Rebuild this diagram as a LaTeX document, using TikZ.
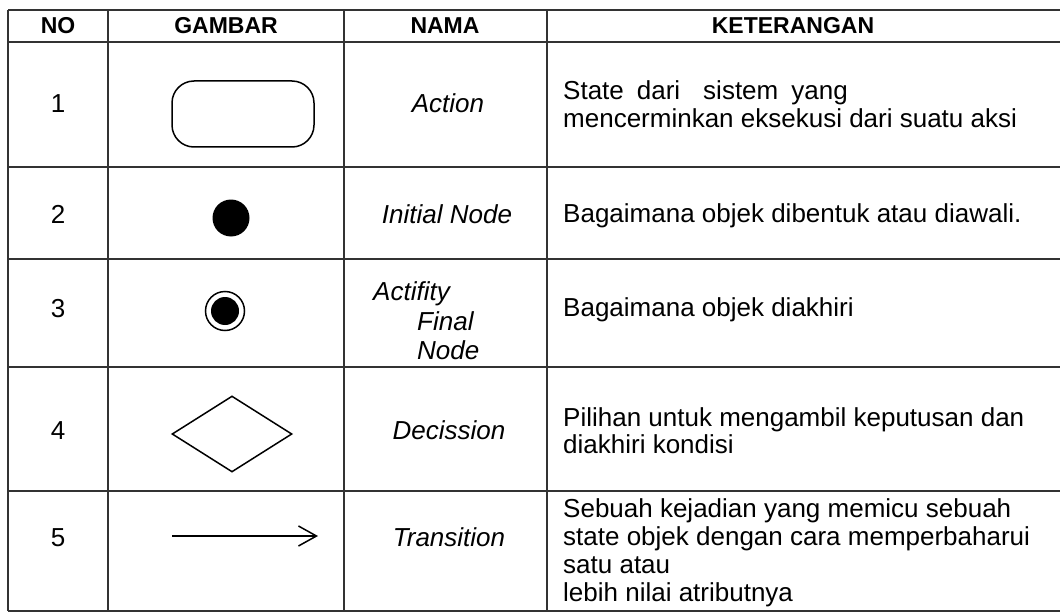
\documentclass[tikz,border=0pt]{standalone}
\usepackage{fontspec}
\setmainfont{Liberation Sans}
\usetikzlibrary{arrows.meta,shapes.geometric}
\begin{document}
\begin{tikzpicture}[x=1pt,y=-1pt,
  gridline/.style={draw=black!80,line width=1.5pt},
  shp/.style={draw=black,line width=1.5pt},
  hdr/.style={font=\fontsize{23}{26}\selectfont\bfseries,inner sep=0pt,anchor=base},
  txt/.style={font=\fontsize{26}{29}\selectfont,inner sep=0pt,anchor=base west},
  num/.style={font=\fontsize{26}{29}\selectfont,inner sep=0pt,anchor=base},
  nm/.style={font=\fontsize{26}{29}\selectfont\itshape,inner sep=0pt,anchor=base},
  nmw/.style={font=\fontsize{26}{29}\selectfont\itshape,inner sep=0pt,anchor=base west}]
\useasboundingbox (0,0) rectangle (1060,615);
\fill[white] (0,0) rectangle (1060,615);
% table rules
\foreach \yy in {10,42,167,259,367,491,611}{\draw[gridline] (8,\yy) -- (1060,\yy);}
\foreach \xx in {8,108,344,547}{\draw[gridline] (\xx,10) -- (\xx,611);}
% header
\node[hdr] (hno) at (58,34) {NO};
\node[hdr] (hgb) at (226,34) {GAMBAR};
\node[hdr] (hnm) at (445,34) {NAMA};
\node[hdr] (hkt) at (793,34) {KETERANGAN};
% numbers
\node[num] (n1) at (58,113) {1};
\node[num] (n2) at (58,223) {2};
\node[num] (n3) at (58,317) {3};
\node[num] (n4) at (58,439) {4};
\node[num] (n5) at (58,546) {5};
% shapes
\node[shp,rectangle,rounded corners=22pt,minimum width=142pt,minimum height=66pt,inner sep=0pt] (act) at (243,114) {};
\node[circle,fill=black,minimum size=37pt,inner sep=0pt] (init) at (231,218) {};
\node[circle,shp,minimum size=39pt,inner sep=0pt] (fin) at (225,311) {};
\node[circle,fill=black,minimum size=28pt,inner sep=0pt] (fini) at (225,311) {};
\node[diamond,shp,minimum width=120pt,minimum height=76pt,inner sep=0pt] (dec) at (232,434) {};
\coordinate (t1) at (172,536);
\coordinate (t2) at (318,536);
\draw[line width=1.5pt,-{Straight Barb[length=18pt,width=20pt]}] (t1) -- (t2);
% names
\node[nm] (m1) at (448,113) {Action};
\node[nm] (m2) at (447,223) {Initial Node};
\node[nmw] (m3a) at (373,300) {Actifity};
\node[nmw] (m3b) at (417,330) {Final};
\node[nmw] (m3c) at (417,359) {Node};
\node[nm] (m4) at (449,439) {Decission};
\node[nm] (m5) at (449,546) {Transition};
% descriptions
\node[txt] (k1a) at (563,100) {State\hspace{13pt}dari\hspace{23pt}sistem\hspace{13pt}yang};
\node[txt] (k1b) at (563,128) {mencerminkan eksekusi dari suatu aksi};
\node[txt] (k2) at (563,222) {Bagaimana objek dibentuk atau diawali.};
\node[txt] (k3) at (563,316) {Bagaimana objek diakhiri};
\node[txt] (k4a) at (563,426) {Pilihan untuk mengambil keputusan dan};
\node[txt] (k4b) at (563,453) {diakhiri kondisi};
\node[txt] (k5a) at (563,517) {Sebuah kejadian yang memicu sebuah};
\node[txt] (k5b) at (563,545) {state objek dengan cara memperbaharui};
\node[txt] (k5c) at (563,573) {satu atau};
\node[txt] (k5d) at (563,601) {lebih nilai atributnya};
\end{tikzpicture}
\end{document}
